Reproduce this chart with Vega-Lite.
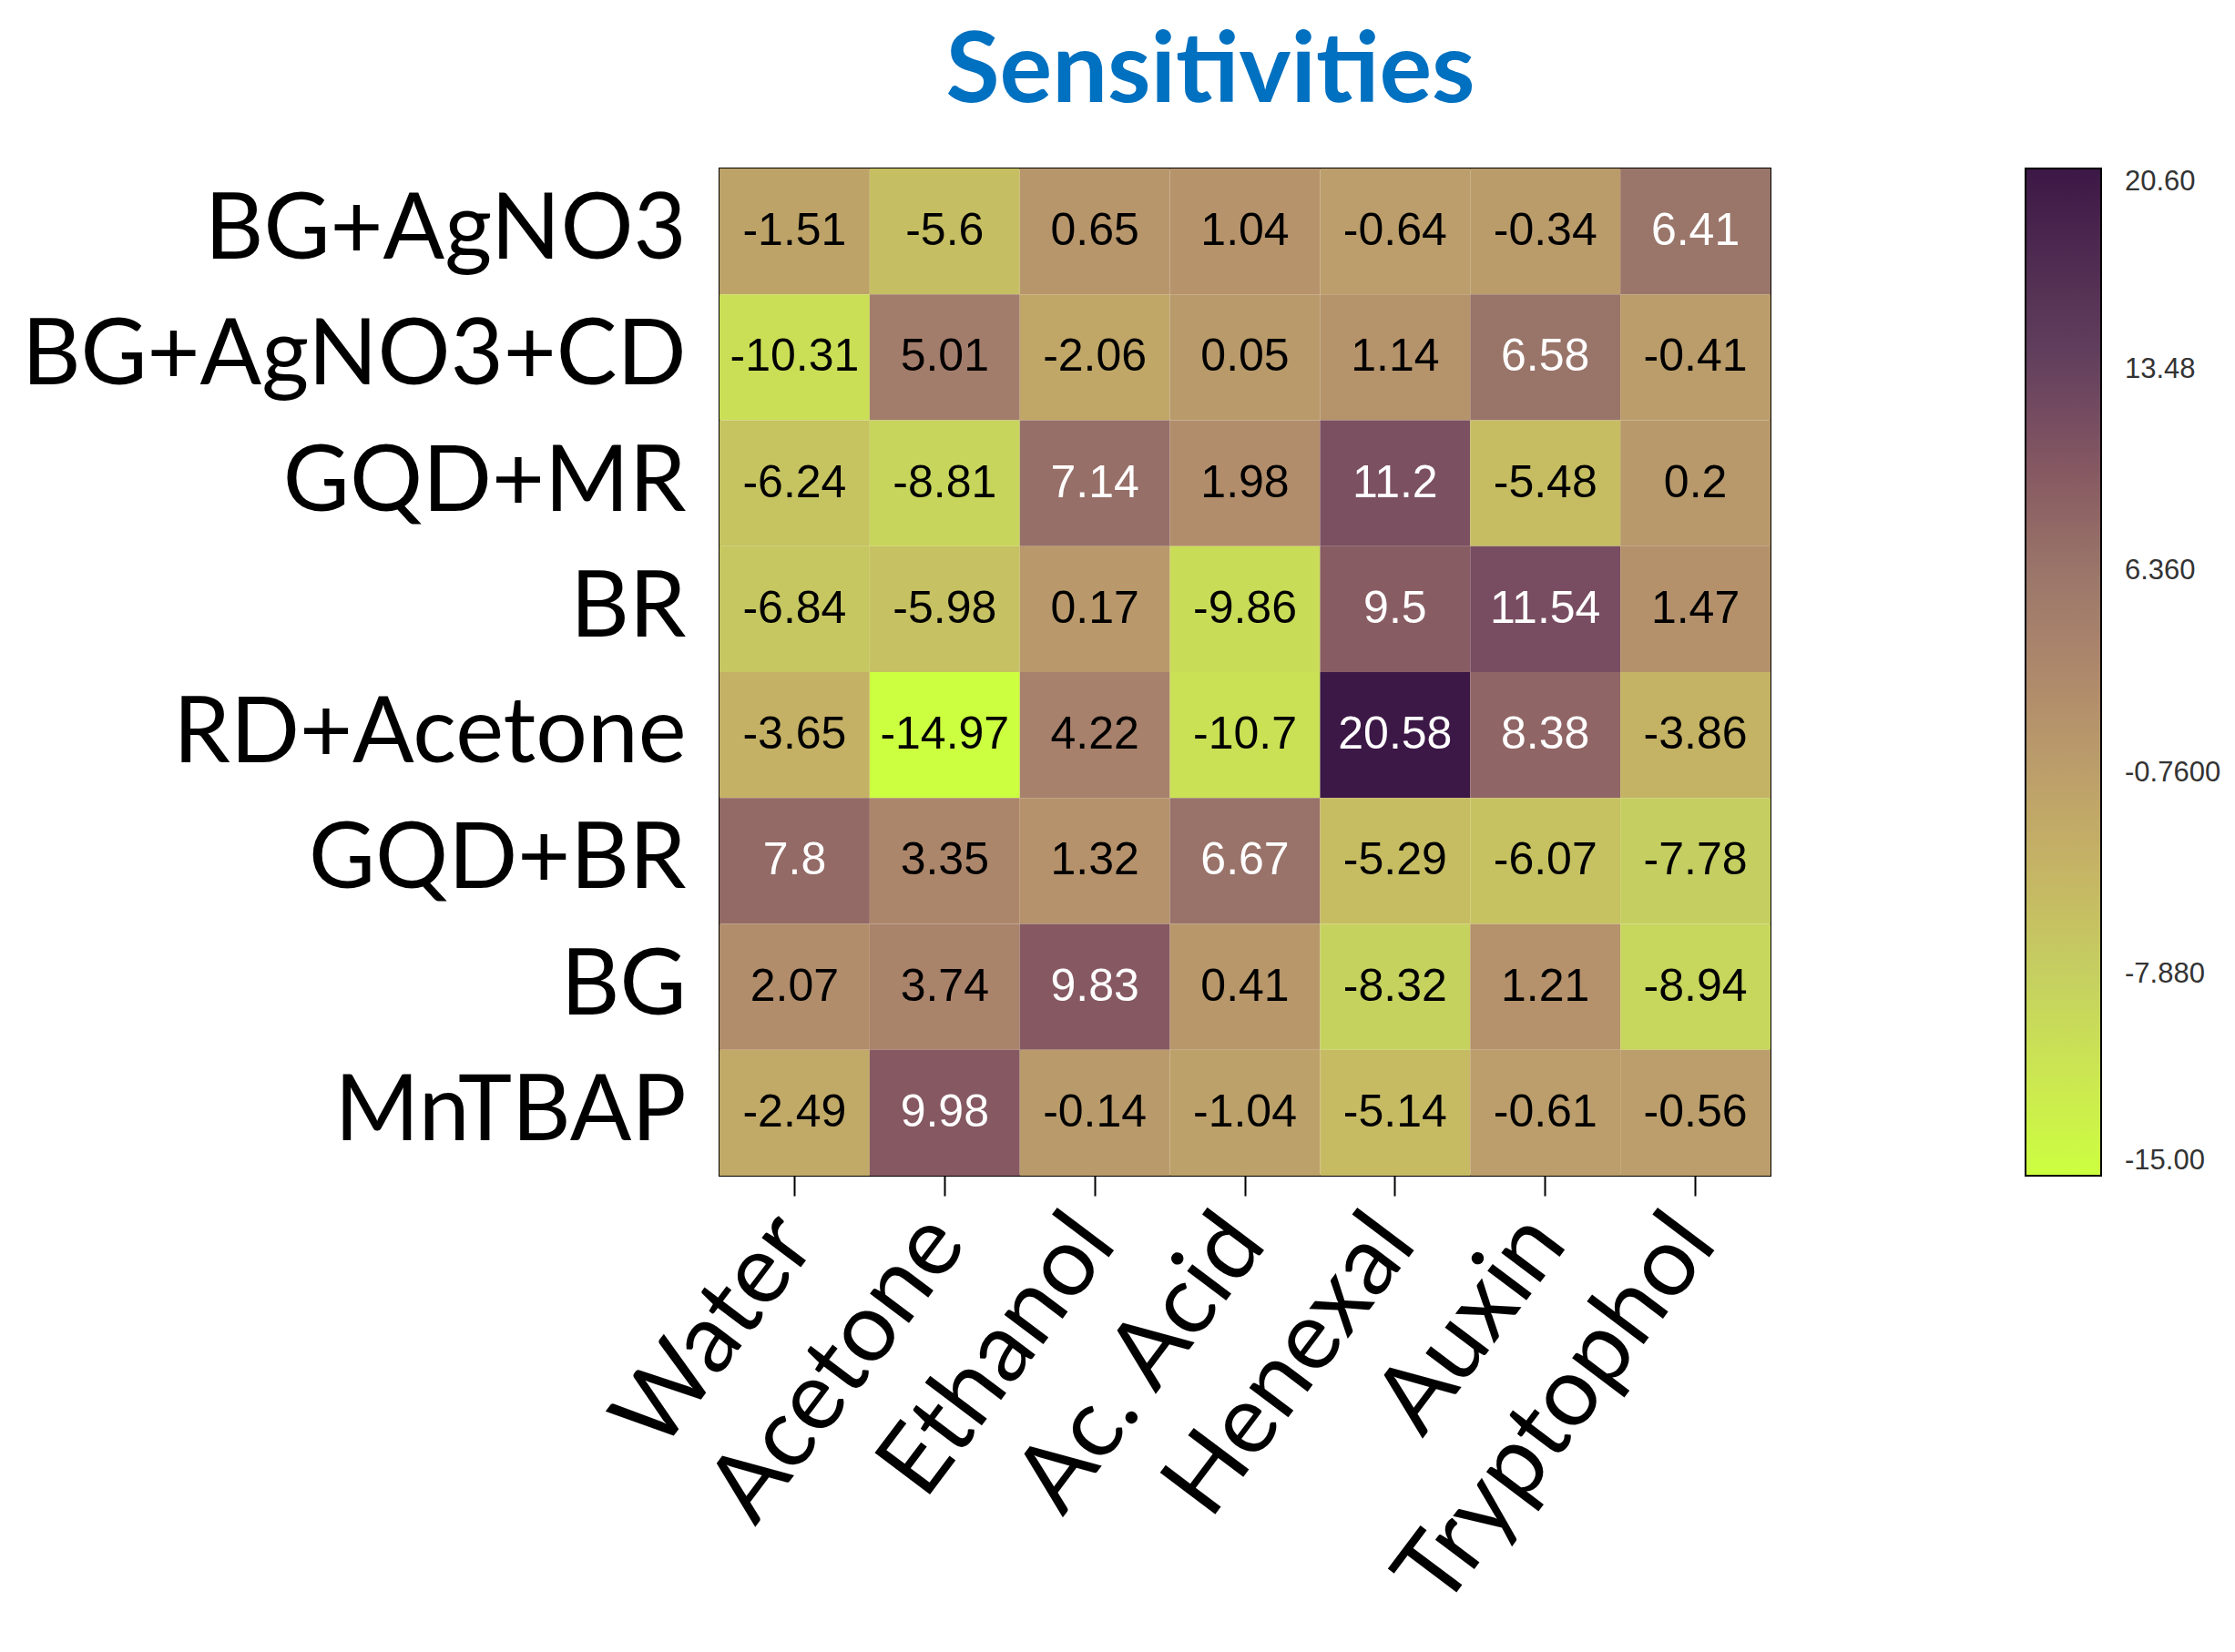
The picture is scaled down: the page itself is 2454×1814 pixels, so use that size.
{
  "$schema": "https://vega.github.io/schema/vega-lite/v6.json",
  "width": 1154,
  "height": 1106,
  "autosize": {"type": "none"},
  "padding": {"left": 790, "top": 185, "right": 510, "bottom": 523},
  "background": "white",
  "title": {"text": "Sensitivities", "font": "Lato", "fontSize": 108, "fontWeight": "bold", "color": "#0070c0", "anchor": "middle", "dx": -38, "offset": 50},
  "data": {"values": [
    {"sensor": "BG+AgNO3", "solvent": "Water", "v": -1.51},
    {"sensor": "BG+AgNO3", "solvent": "Acetone", "v": -5.6},
    {"sensor": "BG+AgNO3", "solvent": "Ethanol", "v": 0.65},
    {"sensor": "BG+AgNO3", "solvent": "Ac. Acid", "v": 1.04},
    {"sensor": "BG+AgNO3", "solvent": "Henexal", "v": -0.64},
    {"sensor": "BG+AgNO3", "solvent": "Auxin", "v": -0.34},
    {"sensor": "BG+AgNO3", "solvent": "Tryptophol", "v": 6.41},
    {"sensor": "BG+AgNO3+CD", "solvent": "Water", "v": -10.31},
    {"sensor": "BG+AgNO3+CD", "solvent": "Acetone", "v": 5.01},
    {"sensor": "BG+AgNO3+CD", "solvent": "Ethanol", "v": -2.06},
    {"sensor": "BG+AgNO3+CD", "solvent": "Ac. Acid", "v": 0.05},
    {"sensor": "BG+AgNO3+CD", "solvent": "Henexal", "v": 1.14},
    {"sensor": "BG+AgNO3+CD", "solvent": "Auxin", "v": 6.58},
    {"sensor": "BG+AgNO3+CD", "solvent": "Tryptophol", "v": -0.41},
    {"sensor": "GQD+MR", "solvent": "Water", "v": -6.24},
    {"sensor": "GQD+MR", "solvent": "Acetone", "v": -8.81},
    {"sensor": "GQD+MR", "solvent": "Ethanol", "v": 7.14},
    {"sensor": "GQD+MR", "solvent": "Ac. Acid", "v": 1.98},
    {"sensor": "GQD+MR", "solvent": "Henexal", "v": 11.2},
    {"sensor": "GQD+MR", "solvent": "Auxin", "v": -5.48},
    {"sensor": "GQD+MR", "solvent": "Tryptophol", "v": 0.2},
    {"sensor": "BR", "solvent": "Water", "v": -6.84},
    {"sensor": "BR", "solvent": "Acetone", "v": -5.98},
    {"sensor": "BR", "solvent": "Ethanol", "v": 0.17},
    {"sensor": "BR", "solvent": "Ac. Acid", "v": -9.86},
    {"sensor": "BR", "solvent": "Henexal", "v": 9.5},
    {"sensor": "BR", "solvent": "Auxin", "v": 11.54},
    {"sensor": "BR", "solvent": "Tryptophol", "v": 1.47},
    {"sensor": "RD+Acetone", "solvent": "Water", "v": -3.65},
    {"sensor": "RD+Acetone", "solvent": "Acetone", "v": -14.97},
    {"sensor": "RD+Acetone", "solvent": "Ethanol", "v": 4.22},
    {"sensor": "RD+Acetone", "solvent": "Ac. Acid", "v": -10.7},
    {"sensor": "RD+Acetone", "solvent": "Henexal", "v": 20.58},
    {"sensor": "RD+Acetone", "solvent": "Auxin", "v": 8.38},
    {"sensor": "RD+Acetone", "solvent": "Tryptophol", "v": -3.86},
    {"sensor": "GQD+BR", "solvent": "Water", "v": 7.8},
    {"sensor": "GQD+BR", "solvent": "Acetone", "v": 3.35},
    {"sensor": "GQD+BR", "solvent": "Ethanol", "v": 1.32},
    {"sensor": "GQD+BR", "solvent": "Ac. Acid", "v": 6.67},
    {"sensor": "GQD+BR", "solvent": "Henexal", "v": -5.29},
    {"sensor": "GQD+BR", "solvent": "Auxin", "v": -6.07},
    {"sensor": "GQD+BR", "solvent": "Tryptophol", "v": -7.78},
    {"sensor": "BG", "solvent": "Water", "v": 2.07},
    {"sensor": "BG", "solvent": "Acetone", "v": 3.74},
    {"sensor": "BG", "solvent": "Ethanol", "v": 9.83},
    {"sensor": "BG", "solvent": "Ac. Acid", "v": 0.41},
    {"sensor": "BG", "solvent": "Henexal", "v": -8.32},
    {"sensor": "BG", "solvent": "Auxin", "v": 1.21},
    {"sensor": "BG", "solvent": "Tryptophol", "v": -8.94},
    {"sensor": "MnTBAP", "solvent": "Water", "v": -2.49},
    {"sensor": "MnTBAP", "solvent": "Acetone", "v": 9.98},
    {"sensor": "MnTBAP", "solvent": "Ethanol", "v": -0.14},
    {"sensor": "MnTBAP", "solvent": "Ac. Acid", "v": -1.04},
    {"sensor": "MnTBAP", "solvent": "Henexal", "v": -5.14},
    {"sensor": "MnTBAP", "solvent": "Auxin", "v": -0.61},
    {"sensor": "MnTBAP", "solvent": "Tryptophol", "v": -0.56}
  ]},
  "encoding": {
    "x": {"field": "solvent", "type": "nominal",
      "sort": ["Water", "Acetone", "Ethanol", "Ac. Acid", "Henexal", "Auxin", "Tryptophol"],
      "axis": {"title": null, "labelAngle": -53, "labelFont": "Lato", "labelFontSize": 106, "labelColor": "black", "tickColor": "black", "tickSize": 22, "tickWidth": 2, "domain": false, "labelPadding": 34, "labelLimit": 0}},
    "y": {"field": "sensor", "type": "nominal",
      "sort": ["BG+AgNO3", "BG+AgNO3+CD", "GQD+MR", "BR", "RD+Acetone", "GQD+BR", "BG", "MnTBAP"],
      "axis": {"title": null, "labelFont": "Lato", "labelFontSize": 100, "labelColor": "black", "ticks": false, "domain": false, "labelPadding": 37, "labelLimit": 0}}
  },
  "layer": [
    {"mark": {"type": "rect"},
     "encoding": {"color": {"field": "v", "type": "quantitative",
       "scale": {"domain": [-15, -7.88, -0.76, 6.36, 13.48, 20.6], "range": ["#ccff40", "#c5cf60", "#bb9f6b", "#9a766a", "#65425f", "#3c1846"]},
       "legend": {"orient": "none", "legendX": 1434, "legendY": 0, "direction": "vertical", "gradientLength": 1106, "gradientThickness": 83, "title": null,
         "values": [-15, -7.88, -0.76, 6.36, 13.48, 20.6],
         "labelExpr": "replace(format(datum.value, '.4g'), '\u2212', '-')",
         "labelFont": "Liberation Sans", "labelFontSize": 31, "labelColor": "#333333", "labelOffset": 26, "labelOverlap": false,
         "gradientStrokeColor": "black", "gradientStrokeWidth": 2}}}},
    {"mark": {"type": "text", "font": "Liberation Sans", "fontSize": 50},
     "encoding": {"text": {"field": "v", "type": "nominal"},
       "color": {"condition": {"test": "datum.v > 6", "value": "white"}, "value": "black"}}}
  ],
  "config": {"view": {"stroke": "black", "strokeWidth": 2}}
}
